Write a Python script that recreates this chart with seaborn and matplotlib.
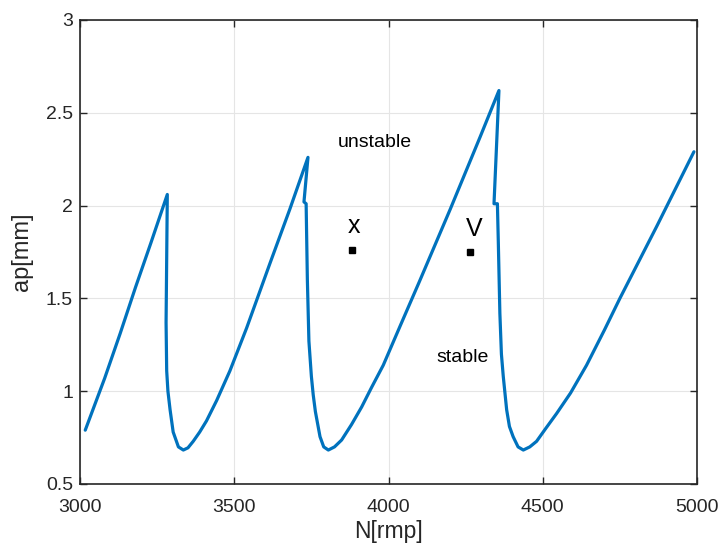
import numpy as np
import matplotlib.pyplot as plt
import seaborn as sns
import pandas as pd

# stability lobe boundary (spindle speed, depth of cut)
speed = [3017, 3080, 3130, 3180, 3230, 3283,
         3279, 3281, 3285, 3292, 3302, 3319, 3335, 3350, 3367, 3388, 3410, 3443, 3486,
         3540, 3616, 3680, 3739,
         3726, 3733, 3737, 3742, 3750, 3756, 3763, 3778, 3790, 3805, 3825, 3848, 3880, 3913, 3945,
         3983, 4040, 4100, 4200, 4297, 4358,
         4342, 4353, 4356, 4361, 4366, 4372, 4383, 4392, 4404, 4420, 4437, 4458, 4480, 4510, 4545,
         4590, 4642, 4700, 4750, 4870, 4990]
depth = [0.79, 1.07, 1.31, 1.56, 1.80, 2.06,
         1.37, 1.11, 1.00, 0.90, 0.78, 0.70, 0.683, 0.695, 0.73, 0.78, 0.84, 0.95, 1.11,
         1.34, 1.69, 1.98, 2.26,
         2.02, 2.01, 1.60, 1.27, 1.08, 0.98, 0.89, 0.755, 0.70, 0.683, 0.70, 0.737, 0.82, 0.915, 1.02,
         1.14, 1.36, 1.59, 1.98, 2.37, 2.62,
         2.01, 2.01, 1.80, 1.42, 1.20, 1.08, 0.90, 0.81, 0.755, 0.70, 0.683, 0.70, 0.73, 0.80, 0.88,
         0.99, 1.14, 1.33, 1.50, 1.89, 2.29]

# test points
pt_speed = [3883, 4264]
pt_depth = [1.76, 1.75]
pt_labels = ["x", "V"]
label_speed = [3887, 4277]
label_depth = [1.855, 1.835]

sns.set_style("whitegrid")
plt.rcParams['font.family'] = ['Liberation Sans', 'DejaVu Sans']

fig = plt.figure(figsize=(7.21, 5.43), dpi=100)
ax = fig.add_axes([80 / 721, 1 - 484 / 543, 617 / 721, 464 / 543])

df = pd.DataFrame({"N": speed, "ap": depth})
sns.lineplot(data=df, x="N", y="ap", sort=False, estimator=None,
             color="#0072BD", linewidth=2.3, ax=ax)
ax.plot(pt_speed, pt_depth, "s", color="black", markersize=4.5)
for s, d, lab in zip(label_speed, label_depth, pt_labels):
    ax.text(s, d, lab, fontsize=18, ha="center", va="baseline", color="black")

ax.text(3956, 2.34, "unstable", fontsize=14, ha="center", va="center", color="black")
ax.text(4241, 1.18, "stable", fontsize=14, ha="center", va="center", color="black")

ax.set_xlim(3000, 5000)
ax.set_ylim(0.5, 3)
ax.set_xticks([3000, 3500, 4000, 4500, 5000])
ax.set_yticks([0.5, 1, 1.5, 2, 2.5, 3])
ax.set_yticklabels(["0.5", "1", "1.5", "2", "2.5", "3"])
ax.set_xlabel("N[rmp]", fontsize=16.5, color="#262626")
ax.set_ylabel("ap[mm]", fontsize=17, color="#262626")
ax.xaxis.set_label_coords(0.5, -0.078)
ax.yaxis.set_label_coords(-0.076, 0.5)
ax.grid(True, color="#e5e5e5", linewidth=0.8)
for sp in ax.spines.values():
    sp.set_visible(True)
    sp.set_color("#262626")
    sp.set_linewidth(1.2)
ax.tick_params(direction="in", length=5, width=1, top=True, right=True,
               labelsize=14, colors="#262626", left=True, bottom=True)
ax.tick_params(axis="x", pad=11)
ax.tick_params(axis="y", pad=5)

fig.savefig("out.png", dpi=100)
